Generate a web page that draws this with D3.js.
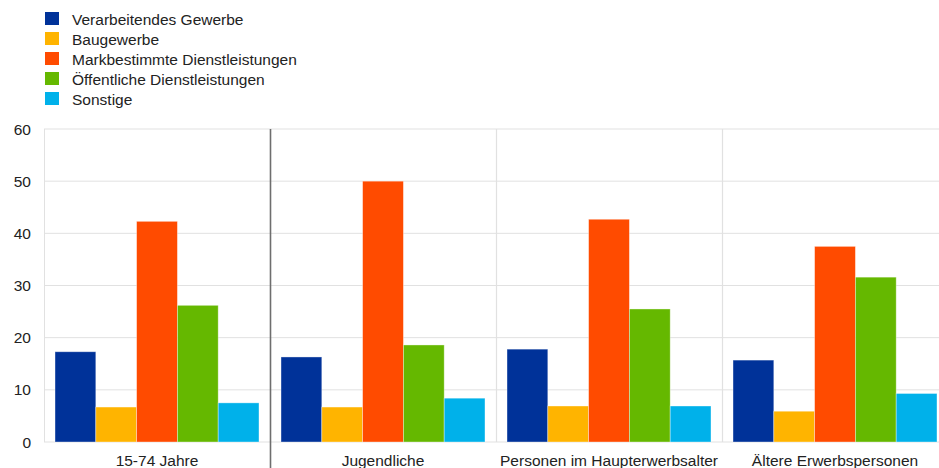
<!DOCTYPE html>
<html><head><meta charset="utf-8">
<script src="https://cdn.jsdelivr.net/npm/d3@7"></script>
<style>body{margin:0;background:#fff}svg{display:block;font-family:"Liberation Sans",Arial,sans-serif}</style>
</head><body><svg id="c" width="939" height="468"></svg>
<script>
const categories = ["15-74 Jahre","Jugendliche","Personen im Haupterwerbsalter","Ältere Erwerbspersonen"];
const seriesNames = ["Verarbeitendes Gewerbe","Baugewerbe","Markbestimmte Dienstleistungen","Öffentliche Dienstleistungen","Sonstige"];
const colors = ["#003299","#ffb400","#ff4b00","#65b800","#00b1ea"];
const verarbeitend = [17.3,16.3,17.8,15.7];
const baugewerbe = [6.7,6.7,6.9,5.9];
const marktDL = [42.3,50.0,42.7,37.5];
const oeffDL = [26.2,18.6,25.5,31.6];
const sonstige = [7.5,8.4,6.9,9.3];
const yTicks = [0,10,20,30,40,50,60];
const values = [verarbeitend,baugewerbe,marktDL,oeffDL,sonstige];

const svg = d3.select("#c");
const L=44, R=948, T=129, B=442;
const x0 = d3.scaleBand().domain(categories).range([L,R]).paddingInner(0).paddingOuter(0);
const x1 = d3.scaleBand().domain(d3.range(seriesNames.length)).range([0,x0.bandwidth()]).paddingOuter(0.27).paddingInner(0);
const y = d3.scaleLinear().domain([0,60]).range([B,T]);

// grid
svg.append("g").selectAll("line").data(yTicks).join("line")
  .attr("x1",L).attr("x2",R).attr("y1",d=>y(d)).attr("y2",d=>y(d))
  .attr("stroke","#e1e1e1").attr("stroke-width",1);
// vertical separators
svg.append("line").attr("x1",L+0.5).attr("x2",L+0.5).attr("y1",T).attr("y2",B).attr("stroke","#e1e1e1");
svg.append("g").selectAll("line").data(categories.slice(2)).join("line")
  .attr("x1",d=>x0(d)+0.5).attr("x2",d=>x0(d)+0.5).attr("y1",T).attr("y2",B)
  .attr("stroke","#e1e1e1").attr("stroke-width",1.2);

// bars
const g = svg.append("g");
categories.forEach((c,ci)=>{
  values.forEach((vals,si)=>{
    g.append("rect")
      .attr("x",x0(c)+x1(si)).attr("width",x1.bandwidth())
      .attr("y",y(vals[ci])).attr("height",y(0)-y(vals[ci]))
      .attr("fill",colors[si]).attr("stroke","rgba(255,255,255,0.45)").attr("stroke-width",0.8);
  });
});

// dark separator
svg.append("line").attr("x1",x0(categories[1])+0.5).attr("x2",x0(categories[1])+0.5)
  .attr("y1",T).attr("y2",468).attr("stroke","#6e6e6e").attr("stroke-width",1.6);

// y axis labels
svg.append("g").selectAll("text").data(yTicks).join("text")
  .attr("x",31).attr("y",d=>y(d)+5.5).attr("text-anchor","end")
  .attr("font-size",15.5).attr("fill","#222").text(d=>d);

// x labels
svg.append("g").selectAll("text").data(categories).join("text")
  .attr("x",d=>x0(d)+x0.bandwidth()/2).attr("y",466)
  .attr("text-anchor","middle").attr("font-size",15.5).attr("fill","#222").text(d=>d);

// legend
const lg = svg.append("g");
seriesNames.forEach((n,i)=>{
  lg.append("rect").attr("x",45).attr("y",12+i*20).attr("width",14).attr("height",13).attr("fill",colors[i]);
  lg.append("text").attr("x",72).attr("y",25+i*20).attr("font-size",15.5).attr("fill","#222").text(n);
});
</script></body></html>
